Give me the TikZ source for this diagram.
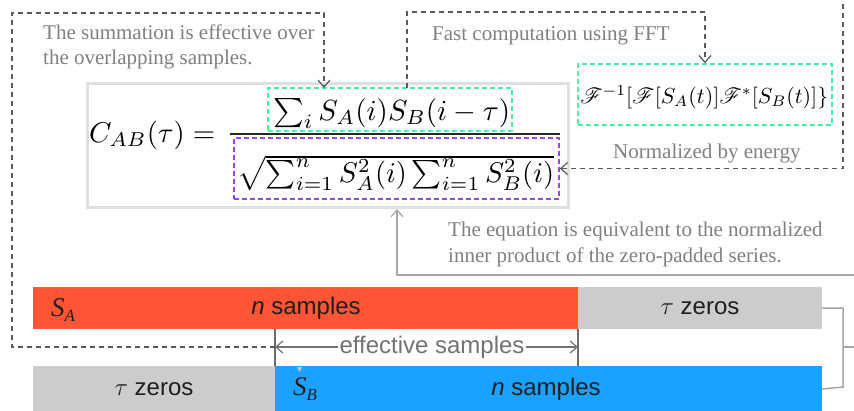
\documentclass[tikz,border=0pt]{standalone}
\usepackage{fontspec}
\setmainfont{Liberation Serif}
\setsansfont{Liberation Sans}
\usepackage{mathrsfs}
\usepackage{graphicx}
\usetikzlibrary{arrows.meta,calc}
\definecolor{dashgray}{HTML}{5A5A5A}
\definecolor{annot}{HTML}{808080}
\definecolor{conngray}{HTML}{A6A6A6}
\definecolor{framegray}{HTML}{E0E0E0}
\definecolor{eqgreen}{HTML}{3DF5A3}
\definecolor{eqpurple}{HTML}{A040FF}
\definecolor{sared}{HTML}{FF5436}
\definecolor{sbblue}{HTML}{1BA1FF}
\definecolor{zerogray}{HTML}{CCCCCC}
\definecolor{bartext}{HTML}{1E1E1E}
\tikzset{
  annottext/.style={font=\fontsize{21}{25}\selectfont, text=annot, inner sep=0, anchor=base west},
  dashline/.style={draw=dashgray, line width=1.4pt, dash pattern=on 5pt off 4pt},
  barb/.tip={Straight Barb[length=7pt,width=12pt,line width=1.2pt]},
  connline/.style={draw=conngray, line width=1.5pt},
  vline/.style={draw=dashgray!90, line width=1.4pt},
  eqbox/.style={line width=1.4pt, dash pattern=on 5pt off 3pt, inner sep=0},
  barbox/.style={inner sep=0, outer sep=0, font=\sffamily\fontsize{24}{28}\selectfont, text=bartext},
  sublabel/.style={anchor=base west, inner sep=0, font=\fontsize{27}{30}\selectfont, text=bartext},
  eqpart/.style={anchor=base west, inner sep=0}
}
\begin{document}
\begin{tikzpicture}[x=1pt,y=-1pt]
\useasboundingbox (0,0) rectangle (854,410);
\clip (0,0) rectangle (854,410);
\fill[white] (0,0) rectangle (854,410);

% bars
\node[barbox, fill=sared, minimum width=545pt, minimum height=42pt] (saBar) at (305.5,308) {};
\node[barbox, fill=zerogray, minimum width=244pt, minimum height=42pt] (zA) at (700,308) {$\tau$ zeros};
\node[barbox, fill=zerogray, minimum width=242pt, minimum height=46pt] (zB) at (154,389) {$\tau$ zeros};
\node[barbox, fill=sbblue, minimum width=547pt, minimum height=46pt] (sbBar) at (548.5,389) {};
\node[barbox] (nA) at (306,308) {\textit{n} samples};
\node[barbox] (nB) at (546,389) {\textit{n} samples};
\node[sublabel] (sA) at (51,316) {\textit{S}\raisebox{-5pt}{\fontsize{17}{18}\selectfont\textit{A}}};
\node[sublabel] (sB) at (293,395) {\textit{S}\raisebox{-5pt}{\fontsize{17}{18}\selectfont\textit{B}}};
\fill[gray!45] (297,367) -- (302,367) -- (299.5,372) -- cycle;

% effective samples
\draw[vline] (zB.north east) -- (zB.north east |- saBar.south);
\draw[vline] (zA.south west) -- (zA.south west |- sbBar.north);
\coordinate (effL) at (275,347);
\coordinate (effR) at (578,347);
\draw[draw=gray!90!black, line width=1.4pt, {barb}-{barb}] (effL) -- (effR);
\node[fill=white, inner xsep=2pt, inner ysep=0pt, font=\sffamily\fontsize{24}{28}\selectfont, text=annot!90!black] (efftxt) at (432,347) {effective samples};

% formula frame
\node[draw=framegray, line width=3pt, minimum width=481pt, minimum height=124pt, inner sep=0] (frame) at (327.5,145) {};
\node[eqbox, draw=eqgreen, minimum width=244pt, minimum height=43pt] (gb1) at (390,109.5) {};
\node[eqbox, draw=eqpurple, minimum width=325pt, minimum height=61pt] (pb) at (396.5,168.5) {};
\node[eqbox, draw=eqgreen, minimum width=254pt, minimum height=61pt] (gb2) at (705,94.5) {};

\node[eqpart] (cab) at (89,142) {\resizebox{126pt}{!}{$C_{AB}(\tau) =$}};
\node[eqpart] (num) at (273,120) {\resizebox{237pt}{!}{$\textstyle\sum_i S_A(i)S_B(i-\tau)$}};
\node[eqpart] (den) at (237,182) {\resizebox{317pt}{!}{$\sqrt{\sum_{i=1}^n S_A^2(i)\sum_{i=1}^n S_B^2(i)}$}};
\draw[line width=2.8pt, draw=black!85] (230,134) -- (560,134);
\node[eqpart] (fft) at (580,103) {\resizebox{248pt}{!}{$\mathscr{F}^{-1}[\mathscr{F}[S_A(t)]\mathscr{F}^*[S_B(t)]\}$}};

% annotations
\node[annottext] (t1a) at (43,39) {The summation is effective over};
\node[annottext] (t1b) at (43,64) {the overlapping samples.};
\node[annottext] (t2) at (432,40) {Fast computation using FFT};
\node[annottext] (t3) at (613,158) {Normalized by energy};
\node[annottext] (t4a) at (448,236) {The equation is equivalent to the normalized};
\node[annottext] (t4b) at (448,262) {inner product of the zero-padded series.};

% dashed connectors
\coordinate (a1) at (324,88);
\draw[dashline, -{barb}] (effL) -- (12,347) -- (12,13) -- (324,13) -- (a1);
\coordinate (b0) at (407,88);
\draw[dashline, -{barb}] (b0) -- (407,12) -- (705,12) -- (gb2.north);
\coordinate (c0) at (843,4);
\draw[dashline, -{barb}] (c0) |- (pb.east);

% solid connectors
\draw[connline] (zA.east) -- (843,308) -- (843,387) -- (sbBar.east);
\coordinate (brk) at (843,347);
\coordinate (d1) at (397,209);
\draw[connline, -{barb}] (brk) -- (860,347) -- (860,275) -- (397,275) -- (d1);
\end{tikzpicture}
\end{document}
